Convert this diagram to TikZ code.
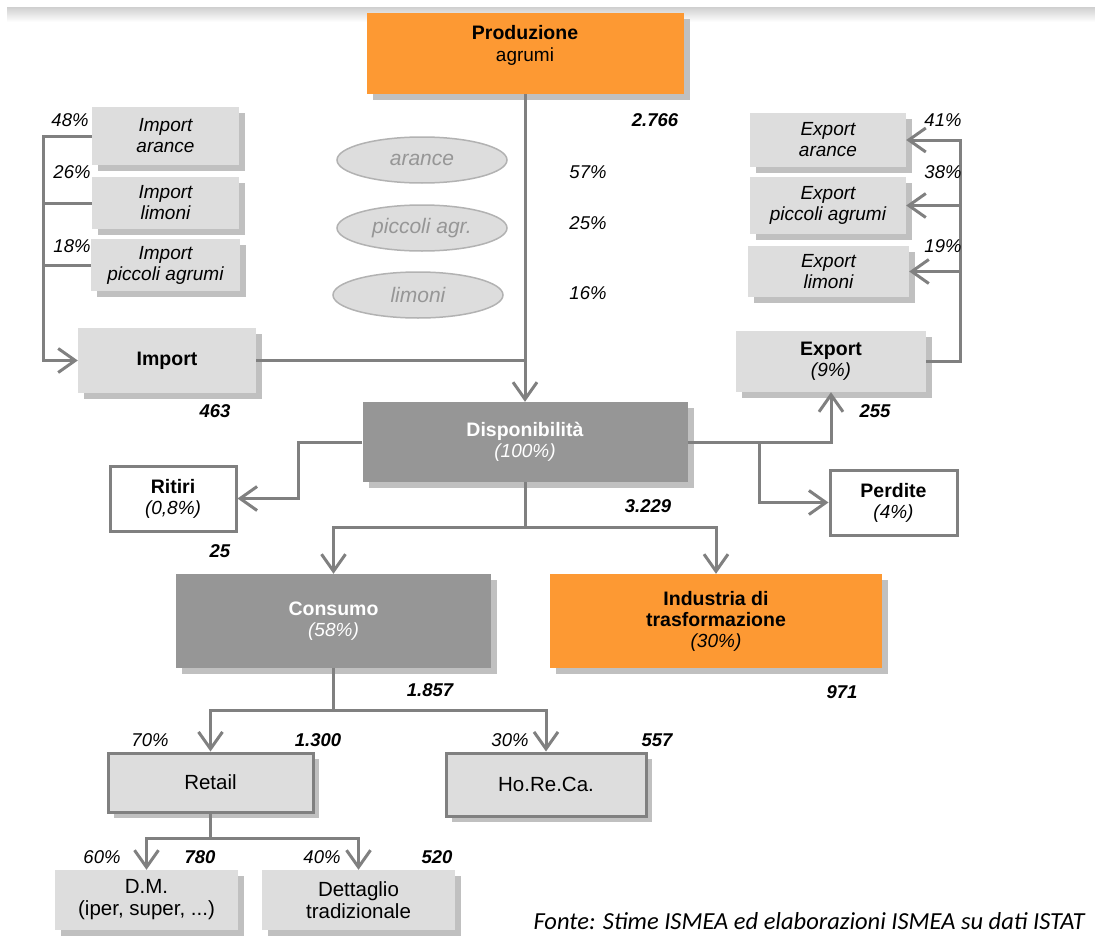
\documentclass[tikz,border=0pt]{standalone}
\usepackage{fontspec}
\setmainfont{Liberation Sans}
\newfontfamily\notefont{Carlito}
\usepackage{tikz}
\usetikzlibrary{
    positioning,      % Relative positioning
    shapes.geometric, % Ellipses
    arrows.meta,      % Arrow tips
    shadows           % Box shadows
}
\definecolor{AgrOrange}{RGB}{253, 153, 51}
\definecolor{BoxDark}{RGB}{150, 150, 150}
\definecolor{BoxLight}{RGB}{221, 221, 221}
\definecolor{LineGray}{RGB}{128, 128, 128}
\definecolor{ShadowGray}{RGB}{192, 192, 192}
\definecolor{OvalText}{RGB}{150, 150, 150}
\definecolor{OvalLine}{RGB}{178, 178, 178}

\begin{document}
\begin{tikzpicture}[x=1pt, y=-1pt,
    box/.style={rectangle, inner sep=0pt, align=center,
        font=\fontsize{19}{21}\selectfont,
        drop shadow={shadow xshift=6pt, shadow yshift=-6pt, fill=ShadowGray, opacity=1}},
    orangebox/.style={box, fill=AgrOrange},
    darkbox/.style={box, fill=BoxDark, text=white},
    lightbox/.style={box, fill=BoxLight},
    subbox/.style={lightbox, font=\fontsize{19}{21}\selectfont\itshape},
    framebox/.style={box, fill=BoxLight, draw=LineGray, line width=3pt,
        font=\fontsize{20.5}{22}\selectfont},
    whitebox/.style={rectangle, inner sep=0pt, align=center, fill=white,
        draw=LineGray, line width=3pt, font=\fontsize{19}{21}\selectfont},
    oval/.style={ellipse, inner sep=0pt, fill=BoxLight, draw=OvalLine, line width=1.5pt,
        text=OvalText, font=\fontsize{21}{24}\selectfont\itshape},
    flow/.style={draw=LineGray, line width=3pt},
    arr/.style={flow, -{Straight Barb[length=17pt, width=24pt]}},
    qty/.style={font=\fontsize{18.5}{21}\selectfont\bfseries\itshape},
    pct/.style={font=\fontsize{18.5}{21}\selectfont\itshape}
]
    \useasboundingbox (0,0) rectangle (1095,942);
    \shade[top color=gray!35, bottom color=white] (7,8) rectangle (1095,22);

    % Production and availability
    \node[orangebox, minimum width=317pt, minimum height=81pt] (prod) at (525,53.5) {};
    \node[align=center, font=\fontsize{19}{22}\selectfont] (prodtext) at (525,45)
        {\textbf{\fontsize{19.5}{22}\selectfont Produzione}\\agrumi};
    \node[darkbox, minimum width=325pt, minimum height=80pt] (disp) at (525,442)
        {\textbf{\fontsize{19.5}{21}\selectfont Disponibilità}\\\textit{(100\%)}};

    % Product mix
    \node[oval, minimum width=170pt, minimum height=46pt] (oarance) at (422,160) {arance};
    \node[oval, minimum width=170pt, minimum height=46pt] (opiccoli) at (422,228) {piccoli agr.};
    \node[oval, minimum width=170pt, minimum height=46pt] (olimoni) at (418,295) {limoni};

    % Import side
    \node[subbox, minimum width=147pt, minimum height=58pt] (imparance) at (165.5,136) {Import\\arance};
    \node[subbox, minimum width=147pt, minimum height=52pt] (implimoni) at (165.5,203) {Import\\limoni};
    \node[subbox, minimum width=149pt, minimum height=52pt] (imppiccoli) at (165.5,265) {Import\\piccoli agrumi};
    \node[lightbox, minimum width=178pt, minimum height=65pt] (import) at (167,360.5)
        {\textbf{\fontsize{19.5}{21}\selectfont Import}};

    % Export side
    \node[subbox, minimum width=156pt, minimum height=54pt] (exparance) at (828,140) {Export\\arance};
    \node[subbox, minimum width=156pt, minimum height=57pt] (exppiccoli) at (828,205.5) {Export\\piccoli agrumi};
    \node[subbox, minimum width=161pt, minimum height=51pt] (explimoni) at (828.5,271.5) {Export\\limoni};
    \node[lightbox, minimum width=190pt, minimum height=61pt] (export) at (831,361.5)
        {\textbf{\fontsize{19.5}{21}\selectfont Export}\\\textit{(9\%)}};

    % Withdrawals and losses
    \node[whitebox, minimum width=126pt, minimum height=65pt] (ritiri) at (173,498.5)
        {\textbf{\fontsize{19.5}{21}\selectfont Ritiri}\\\textit{(0,8\%)}};
    \node[whitebox, minimum width=127pt, minimum height=65pt] (perdite) at (893.5,502.5)
        {\textbf{\fontsize{19.5}{21}\selectfont Perdite}\\\textit{(4\%)}};

    % Uses
    \node[darkbox, minimum width=315pt, minimum height=94pt] (consumo) at (333.5,621)
        {\textbf{\fontsize{19.5}{21}\selectfont Consumo}\\\textit{(58\%)}};
    \node[orangebox, minimum width=332pt, minimum height=94pt] (industria) at (716,621)
        {\textbf{\fontsize{19.5}{22}\selectfont Industria di}\\\textbf{\fontsize{19.5}{22}\selectfont trasformazione}\\\textit{(30\%)}};
    \node[framebox, minimum width=205pt, minimum height=59pt] (retail) at (210.5,782.5) {Retail};
    \node[framebox, minimum width=200pt, minimum height=63pt] (horeca) at (546,784.5) {Ho.Re.Ca.};
    \node[lightbox, font=\fontsize{20.5}{22}\selectfont, minimum width=183pt, minimum height=60pt] (dm) at (146.5,900) {D.M.\\(iper, super, ...)};
    \node[lightbox, font=\fontsize{20.5}{22}\selectfont, minimum width=193pt, minimum height=60pt] (dettaglio) at (358.5,900) {Dettaglio\\tradizionale};

    % Branch points
    \coordinate (ibar) at (43,0);
    \coordinate (ebar) at (960,0);
    \coordinate (rbar) at (298,0);
    \coordinate (pbar) at (759,0);
    \coordinate (dsplit) at (525,527);
    \coordinate (csplit) at (333.5,710);
    \coordinate (rsplit) at (210.5,838);

    % Connectors
    \draw[arr] (prod.south) -- (disp.north);
    \draw[flow] (import.east) -- (import.east -| prod.south);
    \draw[arr] (imparance.west) -- (imparance.west -| ibar) |- (import.west);
    \draw[flow] (implimoni.west) -- (implimoni.west -| ibar);
    \draw[flow] (imppiccoli.west) -- (imppiccoli.west -| ibar);
    \draw[arr] (export.east) -| (ebar |- exparance.east) -- (exparance.east);
    \draw[arr] (ebar |- exppiccoli.east) -- (exppiccoli.east);
    \draw[arr] (ebar |- explimoni.east) -- (explimoni.east);
    \draw[arr] (disp.east) -| (export.south);
    \draw[arr] (disp.east -| pbar) |- (perdite.west);
    \draw[arr] (disp.west) -- (disp.west -| rbar) |- (ritiri.east);
    \draw[flow] (disp.south) -- (dsplit);
    \draw[arr] (dsplit) -| (consumo.north);
    \draw[arr] (dsplit) -| (industria.north);
    \draw[flow] (consumo.south) -- (csplit);
    \draw[arr] (csplit) -| (retail.north);
    \draw[arr] (csplit) -| (horeca.north);
    \draw[flow] (retail.south) -- (rsplit);
    \draw[arr] (rsplit) -| (dm.north);
    \draw[arr] (rsplit) -| (dettaglio.north);

    % Quantities
    \node[qty] (q2766) at (655,120) {2.766};
    \node[qty] (q463) at (215,411) {463};
    \node[qty] (q255) at (875,411) {255};
    \node[qty] (q3229) at (648,506) {3.229};
    \node[qty] (q25) at (220,551) {25};
    \node[qty] (q971) at (842,692) {971};
    \node[qty] (q1857) at (430,690) {1.857};
    \node[qty] (q1300) at (318,740) {1.300};
    \node[qty] (q557) at (657,740) {557};
    \node[qty] (q780) at (200,857) {780};
    \node[qty] (q520) at (437,857) {520};

    % Shares
    \node[pct] (p57) at (588,172) {57\%};
    \node[pct] (p25) at (588,223) {25\%};
    \node[pct] (p16) at (588,293) {16\%};
    \node[pct] (p48) at (70,120) {48\%};
    \node[pct] (p26) at (72,172) {26\%};
    \node[pct] (p18) at (72,246) {18\%};
    \node[pct] (p41) at (943,120) {41\%};
    \node[pct] (p38) at (943,172) {38\%};
    \node[pct] (p19) at (943,246) {19\%};
    \node[pct] (p70) at (150,740) {70\%};
    \node[pct] (p30) at (510,740) {30\%};
    \node[pct] (p60) at (102,857) {60\%};
    \node[pct] (p40) at (322,857) {40\%};

    % Source
    \node[anchor=base east, font=\notefont\itshape\fontsize{24.5}{28}\selectfont] (fonte) at (1088,929)
        {Fonte: Stime ISMEA ed elaborazioni ISMEA su dati ISTAT};
\end{tikzpicture}
\end{document}
